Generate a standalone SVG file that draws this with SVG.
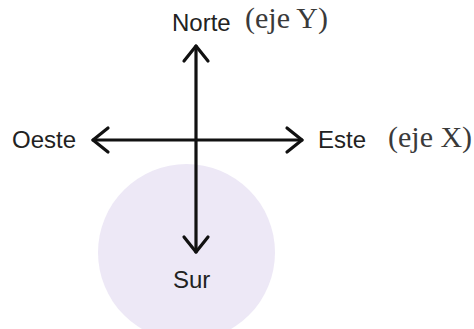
<svg xmlns="http://www.w3.org/2000/svg" width="474" height="329" viewBox="0 0 474 329">
<style>
.sans{font-family:"Liberation Sans",Arial,sans-serif;font-size:24px;fill:#222}
.serif{font-family:"Liberation Serif","Times New Roman",serif;font-size:30px;fill:#3a3a3a}
.ax{stroke:#111;stroke-width:3.2;fill:none;stroke-linecap:round;stroke-linejoin:round}
</style>
<rect width="474" height="329" fill="#fff"/>
<circle id="region" cx="186.5" cy="252.5" r="88.5" fill="#ede8f6"/>
<g id="connectors">
<line class="ax" x1="196" y1="46" x2="196" y2="252"/>
<line class="ax" x1="93" y1="140" x2="302" y2="140"/>
<polyline class="ax" points="184,61 196,46 208,61"/>
<polyline class="ax" points="184,237 196,252 208,237"/>
<polyline class="ax" points="108,128 93,140 108,152"/>
<polyline class="ax" points="287,128 302,140 287,152"/>
</g>
<g id="norte"><text class="sans" x="172" y="31">Norte</text><text class="serif" x="245" y="28">(eje Y)</text></g>
<g id="oeste"><text class="sans" x="12" y="148">Oeste</text></g>
<g id="este"><text class="sans" x="318" y="148">Este</text><text class="serif" x="388" y="147">(eje X)</text></g>
<g id="sur"><text class="sans" x="173" y="288">Sur</text></g>
</svg>
